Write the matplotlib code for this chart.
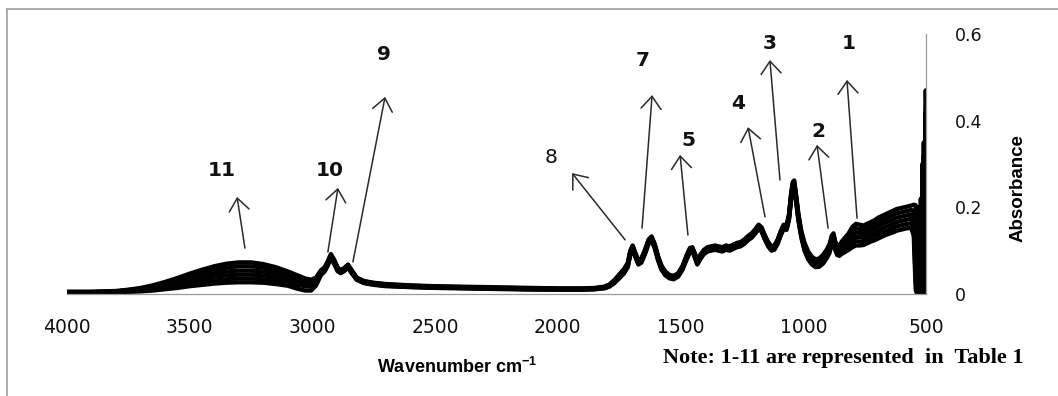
import matplotlib.pyplot as plt
from matplotlib.lines import Line2D

plt.rcParams['mathtext.fontset'] = 'custom'
plt.rcParams['mathtext.rm'] = 'Liberation Sans:bold'
plt.rcParams['mathtext.default'] = 'rm'

# --- data (wavenumber cm-1, absorbance) ---
wavenumber = [4000, 3900, 3800, 3750, 3700, 3650, 3600, 3550, 3500, 3450,
              3400, 3350, 3300, 3250, 3200, 3150, 3100, 3060, 3030, 3005,
              2985, 2965, 2950, 2938, 2925, 2912, 2898, 2885, 2870, 2855,
              2840, 2820, 2790, 2750, 2700, 2600, 2500, 2400, 2300, 2200,
              2100, 2000, 1900, 1850, 1810, 1790, 1770, 1750, 1730, 1715,
              1705, 1695, 1685, 1672, 1660, 1645, 1630, 1618, 1605, 1592,
              1578, 1562, 1545, 1528, 1510, 1492, 1475, 1462, 1452, 1442,
              1432, 1420, 1405, 1390, 1375, 1360, 1345, 1330, 1315, 1300,
              1285, 1270, 1255, 1240, 1225, 1210, 1195, 1182, 1170, 1157,
              1143, 1130, 1118, 1105, 1092, 1080, 1068, 1058, 1050, 1043,
              1037, 1030, 1020, 1008, 995, 980, 965, 950, 935, 920,
              905, 893, 884, 877, 870, 862, 853, 842, 830, 815,
              800, 785, 770, 755, 740, 725, 710, 695, 680, 665,
              650, 635, 620, 605, 590, 575, 560, 550, 542, 536,
              530, 524, 521, 518, 515, 512, 509, 506, 503, 501, 500]

spec_a = [.005, .005, .007, .010, .014, .020, .028, .037, .047, .056,
          .064, .070, .073, .073, .069, .062, .052, .043, .036, .033,
          .038, .055, .062, .075, .092, .080, .062, .055, .060, .068,
          .055, .038, .030, .026, .023, .020, .018, .017, .016, .015,
          .014, .013, .013, .014, .017, .022, .032, .045, .058, .072,
          .100, .112, .096, .078, .082, .102, .126, .133, .115, .088,
          .066, .052, .044, .042, .048, .065, .090, .106, .108, .094,
          .078, .090, .102, .108, .110, .112, .110, .108, .112, .110,
          .114, .118, .120, .126, .134, .140, .150, .160, .154, .136,
          .120, .110, .112, .125, .145, .160, .158, .185, .230, .258,
          .262, .232, .185, .145, .118, .098, .086, .080, .082, .090,
          .102, .115, .135, .140, .122, .110, .112, .122, .130, .140,
          .155, .162, .160, .158, .162, .166, .170, .176, .180, .184,
          .188, .192, .196, .198, .200, .202, .204, .206, .205, .02,
          .20, .00, .22, .02, .28, .00, .32, .03, .38, .42, .38]

spec_b = [.005, .005, .006, .009, .012, .018, .025, .033, .041, .049,
          .056, .061, .064, .064, .061, .055, .046, .038, .032, .030,
          .035, .053, .060, .073, .090, .078, .060, .054, .059, .067,
          .054, .037, .029, .025, .022, .019, .017, .016, .015, .014,
          .013, .012, .012, .013, .016, .021, .030, .043, .056, .070,
          .098, .110, .094, .076, .080, .100, .124, .131, .113, .086,
          .064, .050, .042, .040, .046, .063, .088, .104, .106, .092,
          .076, .088, .100, .106, .108, .110, .108, .106, .110, .108,
          .112, .116, .118, .124, .132, .138, .148, .158, .152, .134,
          .118, .108, .110, .123, .143, .158, .156, .182, .227, .255,
          .259, .229, .182, .142, .114, .094, .082, .076, .078, .086,
          .098, .111, .131, .136, .118, .106, .107, .116, .124, .133,
          .145, .152, .150, .149, .153, .157, .161, .166, .170, .174,
          .178, .182, .186, .188, .190, .192, .194, .192, .150, .00,
          .18, .00, .20, .00, .30, .05, .35, .00, .42, .47, .45]

spec_c = [.004, .004, .006, .008, .011, .015, .021, .028, .035, .042,
          .048, .052, .054, .054, .052, .047, .040, .033, .028, .026,
          .032, .051, .058, .071, .088, .076, .058, .052, .057, .065,
          .052, .036, .028, .024, .021, .018, .016, .015, .014, .013,
          .012, .012, .012, .013, .016, .020, .029, .041, .054, .068,
          .096, .108, .092, .074, .078, .098, .122, .129, .111, .084,
          .062, .048, .041, .039, .045, .062, .086, .102, .104, .090,
          .074, .086, .098, .104, .106, .108, .106, .104, .108, .106,
          .110, .114, .116, .122, .130, .136, .146, .156, .150, .132,
          .116, .106, .108, .121, .141, .156, .154, .180, .224, .252,
          .256, .226, .179, .139, .110, .090, .078, .072, .074, .082,
          .094, .107, .127, .132, .114, .102, .102, .110, .117, .125,
          .135, .142, .141, .140, .144, .148, .152, .157, .161, .165,
          .168, .172, .176, .178, .180, .182, .184, .178, .100, .03,
          .15, .02, .18, .00, .25, .02, .30, .00, .36, .40, .40]

spec_d = [.004, .004, .005, .007, .009, .013, .018, .023, .029, .035,
          .040, .043, .045, .045, .043, .039, .033, .027, .023, .022,
          .029, .049, .056, .069, .086, .074, .057, .051, .056, .064,
          .051, .035, .027, .023, .020, .017, .015, .014, .013, .012,
          .012, .011, .011, .012, .015, .019, .028, .040, .052, .066,
          .094, .106, .090, .072, .076, .096, .120, .127, .109, .082,
          .060, .046, .039, .037, .043, .060, .084, .100, .102, .088,
          .072, .084, .096, .102, .104, .106, .104, .102, .106, .104,
          .108, .112, .114, .120, .128, .134, .144, .154, .148, .130,
          .114, .104, .106, .119, .139, .154, .152, .178, .221, .249,
          .253, .223, .176, .136, .106, .086, .074, .068, .070, .078,
          .090, .103, .123, .128, .110, .098, .097, .104, .110, .117,
          .126, .132, .131, .131, .135, .139, .143, .147, .151, .155,
          .158, .162, .166, .168, .170, .172, .174, .165, .060, .00,
          .10, .00, .12, .02, .22, .00, .28, .02, .33, .36, .35]

spec_e = [.003, .003, .004, .006, .008, .010, .014, .018, .023, .028,
          .031, .034, .036, .036, .034, .031, .026, .021, .018, .017,
          .025, .046, .054, .067, .084, .072, .055, .049, .054, .062,
          .049, .034, .026, .022, .019, .016, .015, .014, .013, .012,
          .011, .010, .010, .011, .014, .018, .026, .038, .050, .064,
          .092, .104, .088, .070, .074, .094, .118, .125, .107, .080,
          .058, .045, .038, .036, .042, .058, .082, .098, .100, .086,
          .070, .082, .094, .100, .102, .104, .102, .100, .104, .102,
          .106, .110, .112, .118, .126, .132, .142, .152, .146, .128,
          .112, .102, .104, .117, .137, .152, .150, .175, .218, .246,
          .250, .220, .173, .133, .103, .083, .071, .065, .066, .074,
          .086, .099, .119, .124, .106, .094, .092, .098, .103, .109,
          .117, .122, .121, .122, .126, .130, .134, .138, .141, .145,
          .148, .152, .156, .158, .160, .162, .163, .150, .030, .00,
          .08, .00, .08, .00, .20, .00, .25, .04, .30, .33, .32]

spec_f = [.003, .003, .004, .005, .006, .008, .011, .014, .018, .021,
          .024, .026, .027, .027, .026, .023, .019, .012, .008, .008,
          .020, .044, .052, .065, .082, .070, .053, .048, .053, .061,
          .048, .033, .025, .021, .018, .016, .014, .013, .012, .011,
          .010, .010, .010, .011, .013, .017, .025, .036, .048, .062,
          .090, .102, .086, .068, .072, .092, .116, .123, .105, .078,
          .056, .043, .036, .034, .040, .056, .080, .096, .098, .084,
          .068, .080, .092, .098, .100, .102, .100, .098, .102, .100,
          .104, .108, .110, .116, .124, .130, .140, .150, .144, .126,
          .110, .100, .102, .115, .135, .150, .148, .172, .215, .243,
          .247, .217, .170, .130, .100, .080, .068, .062, .063, .070,
          .082, .095, .115, .120, .102, .090, .088, .093, .097, .102,
          .108, .112, .112, .113, .117, .121, .124, .128, .132, .136,
          .139, .142, .146, .148, .150, .152, .152, .135, .010, .00,
          .12, .00, .15, .00, .22, .00, .26, .00, .34, .36, .30]

x_ticks = [4000, 3500, 3000, 2500, 2000, 1500, 1000, 500]
x_tick_labels = ['4000', '3500', '3000', '2500', '2000', '1500', '1000', '500']
y_ticks = [0, 0.2, 0.4, 0.6]
y_tick_labels = ['0', '0.2', '0.4', '0.6']

# peak labels and arrows (label, label pos, arrow head, arrow tail)
peak_labels = ['1', '2', '3', '4', '5', '7', '8', '9', '10', '11']
label_wn = [814, 940, 1136, 1266, 1466, 1653, 2028, 2708, 2928, 3368]
label_abs = [0.577, 0.374, 0.577, 0.4385, 0.355, 0.540, 0.316, 0.552, 0.286, 0.286]
head_wn = [822, 944, 1136, 1225, 1502, 1616, 1942, 2704, 2896, 3307]
head_abs = [0.494, 0.344, 0.540, 0.385, 0.321, 0.459, 0.279, 0.455, 0.245, 0.224]
tail_wn = [781, 899, 1095, 1156, 1470, 1657, 1726, 2835, 2937, 3275]
tail_abs = [0.175, 0.152, 0.263, 0.178, 0.136, 0.152, 0.125, 0.074, 0.097, 0.106]

W, H = 1058, 396
fig = plt.figure(figsize=(W / 100, H / 100), dpi=100)
ax = fig.add_axes([67 / W, 102 / H, 859 / W, 260 / H])

for s in [spec_a, spec_b, spec_c, spec_d, spec_e, spec_f]:
    ax.plot(wavenumber, s, color='black', lw=3.1, solid_joinstyle='round')

ax.set_xlim(4000, 500)
ax.set_ylim(0, 0.6)

ax.set_xticks(x_ticks)
ax.set_xticklabels(x_tick_labels, fontsize=13.5, family='DejaVu Sans', color='#111111')
ax.tick_params(axis='x', length=0, pad=17)

ax.yaxis.tick_right()
ax.set_yticks(y_ticks)
ax.set_yticklabels(y_tick_labels, fontsize=12.5, family='DejaVu Sans', color='#111111')
ax.tick_params(axis='y', length=0, pad=21)

for side in ['top', 'left']:
    ax.spines[side].set_visible(False)
for side in ['bottom', 'right']:
    ax.spines[side].set_color('#9a9a9a')
    ax.spines[side].set_linewidth(0.9)

for i, lab in enumerate(peak_labels):
    ax.annotate('', xy=(head_wn[i], head_abs[i]), xytext=(tail_wn[i], tail_abs[i]),
                arrowprops=dict(arrowstyle='->,head_length=0.45,head_width=0.36',
                                mutation_scale=20, color='#2a2a2a', lw=1.1,
                                shrinkA=0, shrinkB=0))
    weight = 'normal' if lab == '8' else 'bold'
    ax.text(label_wn[i], label_abs[i], lab, ha='center', va='center',
            fontsize=14.5, fontweight=weight, family='DejaVu Sans', color='#111111')

fig.text(457 / W, 1 - 373 / H, 'Wavenumber cm$^{-1}$', ha='center', va='baseline',
         fontsize=13, fontweight='bold', family='Liberation Sans')
fig.text(663 / W, 1 - 363 / H, 'Note: 1-11 are represented  in  Table 1', ha='left',
         va='baseline', fontsize=16, fontweight='bold', family='Liberation Serif')
fig.text(1018 / W, 1 - 188 / H, 'Absorbance', rotation=90, ha='center', va='center',
         fontsize=13.5, fontweight='bold', family='Liberation Sans')

# outer frame (top and left edges only are in view)
fig.add_artist(Line2D([7 / W, 1], [1 - 9 / H, 1 - 9 / H], color='#a6a6a6', lw=1.3,
                      transform=fig.transFigure))
fig.add_artist(Line2D([7 / W, 7 / W], [0, 1 - 9 / H], color='#a6a6a6', lw=1.3,
                      transform=fig.transFigure))

fig.savefig('out.png', dpi=100)
